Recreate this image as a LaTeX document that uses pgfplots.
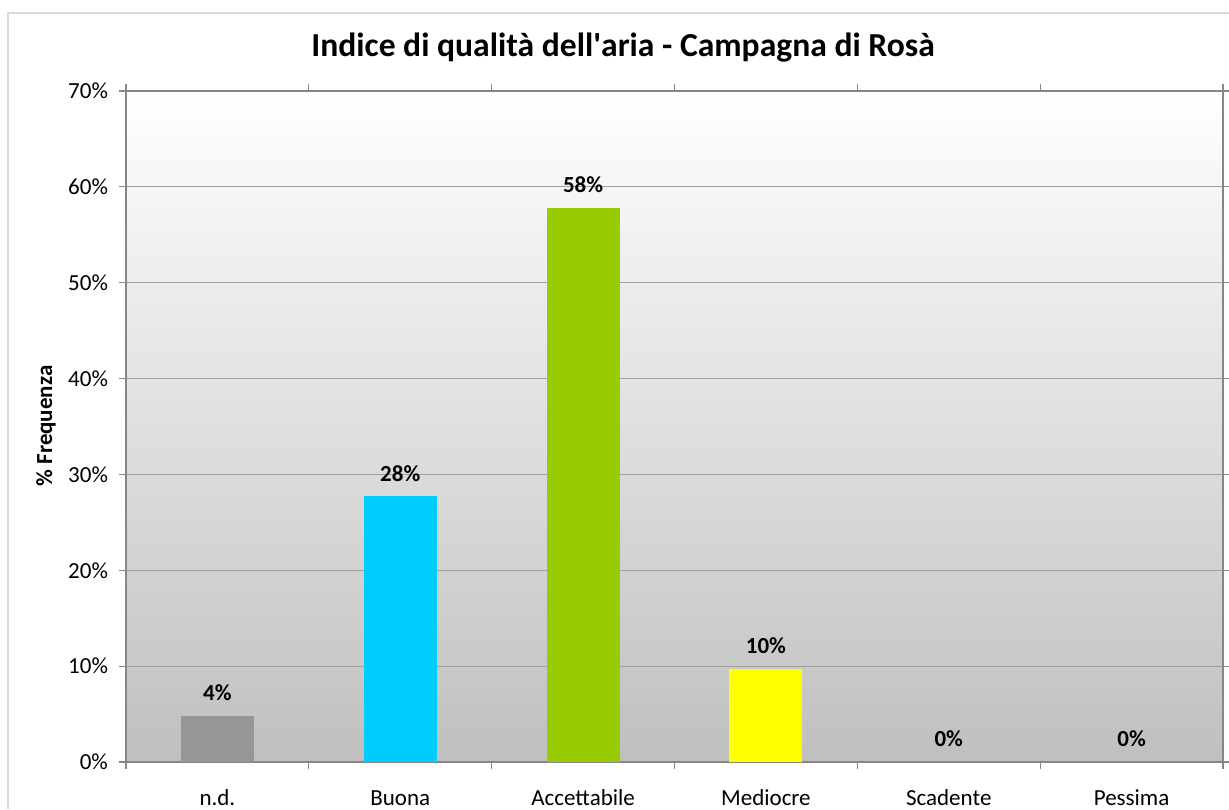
\documentclass[border=0pt]{standalone}
\usepackage{fontspec}
\setmainfont{Carlito}
\usepackage{pgfplots}
\pgfplotsset{compat=1.18}
\definecolor{ndgray}{RGB}{150,150,150}
\definecolor{buona}{RGB}{0,204,255}
\definecolor{acc}{RGB}{153,204,0}
\definecolor{medio}{RGB}{255,255,0}
\definecolor{gridc}{RGB}{160,160,160}
\definecolor{axisc}{RGB}{134,134,134}
\begin{document}
\begin{tikzpicture}[x=0.5pt,y=0.5pt]
% page = 1229 x 809 px, 1px = 0.5pt, y measured from bottom
\path[use as bounding box] (0,0) rectangle (1229,809);
\draw[black!15,line width=1pt] (8,0) -- (8,796) -- (1240,796);
\node[font=\fontsize{16.8}{20}\selectfont\bfseries] at (623,761) {Indice di qualità dell\textquotesingle aria - Campagna di Rosà};
\node[font=\fontsize{11.5}{14}\selectfont\bfseries,rotate=90] at (46,383) {\% Frequenza};
\begin{axis}[
  at={(63pt,23.5pt)},anchor=south west,
  scale only axis,
  width=548.5pt,height=335.5pt,
  xmin=-0.5,xmax=5.5,ymin=0,ymax=70,
  ytick={0,10,...,70},
  yticklabel={\pgfmathprintnumber{\tick}\%},
  xtick={0,...,5},
  xticklabels={n.d.,Buona,Accettabile,Mediocre,Scadente,Pessima},
  minor xtick={-0.5,0.5,...,5.5},
  major x tick style={draw=none},
  tick align=outside,
  major tick length=7pt/2,
  minor tick length=7pt/2,
  tick style={axisc,line width=0.6pt},
  ymajorgrids,
  grid style={gridc,line width=0.6pt},
  axis line style={axisc,line width=0.8pt},
  axis background/.style={shade,top color=white,bottom color=black!25},
  tick label style={font=\fontsize{11.5}{14}\selectfont},
  /pgf/number format/assume math mode=true,
  xticklabel style={yshift=-6pt,text height=8.5pt,text depth=2.5pt},
  yticklabel style={xshift=-2pt},
  ybar,bar shift=0pt,bar width=36.5pt,
  point meta=explicit symbolic,
  nodes near coords,
  nodes near coords style={font=\fontsize{11.5}{14}\selectfont\bfseries,black,yshift=4pt},
]
\addplot[fill=ndgray,draw=none] coordinates {(0,4.8) [4\%]};
\addplot[fill=buona,draw=none] coordinates {(1,27.7) [28\%]};
\addplot[fill=acc,draw=none] coordinates {(2,57.8) [58\%]};
\addplot[fill=medio,draw=none] coordinates {(3,9.7) [10\%]};
\addplot[fill=none,draw=none] coordinates {(4,0) [0\%]};
\addplot[fill=none,draw=none] coordinates {(5,0) [0\%]};
\end{axis}
\end{tikzpicture}
\end{document}
